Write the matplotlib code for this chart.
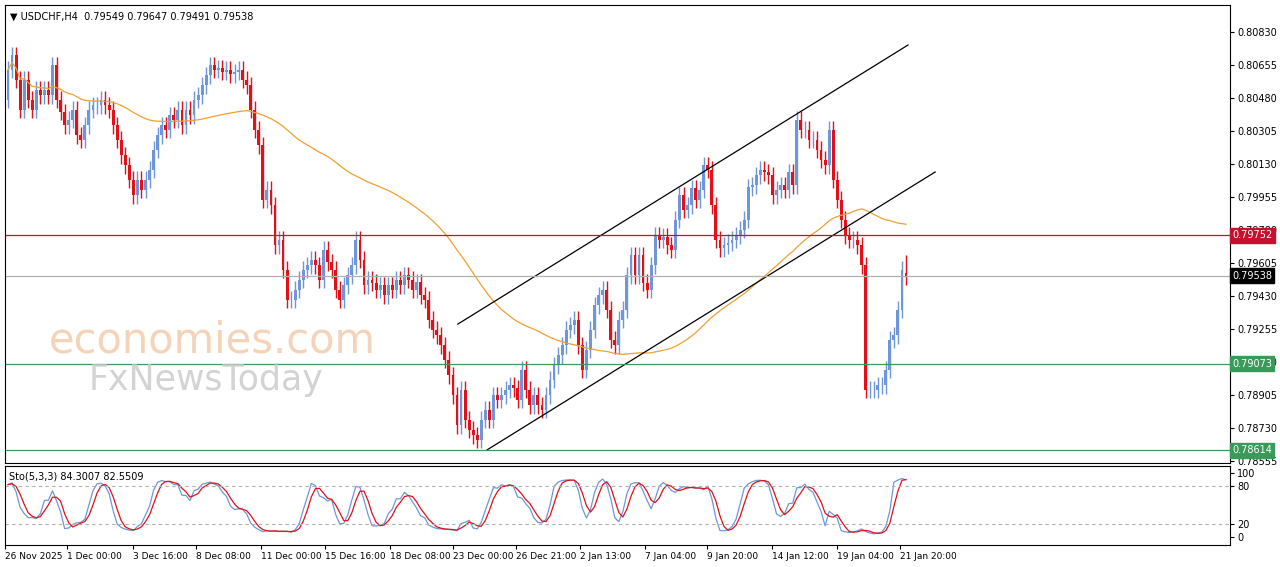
import matplotlib
matplotlib.use("Agg")
import matplotlib.pyplot as plt
import numpy as np

closes = [
.80629,.80708,.80576,.80417,.80576,.80470,.80417,.80523,.80496,.80523,
.80496,.80655,.80470,.80406,.80337,.80364,.80417,.80284,.80258,.80337,
.80417,.80443,.80443,.80470,.80443,.80417,.80337,.80258,.80178,.80125,
.80046,.79966,.80046,.79993,.80046,.80099,.80205,.80284,.80337,.80311,
.80390,.80364,.80417,.80337,.80417,.80390,.80470,.80496,.80549,.80602,
.80655,.80629,.80639,.80618,.80629,.80607,.80618,.80629,.80576,.80549,
.80417,.80311,.80231,.79940,.79993,.79913,.79701,.79728,.79569,.79410,
.79410,.79463,.79516,.79569,.79595,.79622,.79595,.79516,.79675,.79611,
.79569,.79463,.79410,.79489,.79542,.79595,.79728,.79622,.79489,.79516,
.79500,.79463,.79489,.79436,.79489,.79463,.79516,.79489,.79542,.79516,
.79463,.79505,.79436,.79410,.79304,.79251,.79224,.79171,.79092,.79012,
.78906,.78747,.78933,.78774,.78721,.78694,.78668,.78774,.78827,.78774,
.78906,.78880,.78906,.78933,.78959,.78943,.78880,.79039,.78933,.78853,
.78906,.78853,.78827,.78906,.78986,.79065,.79118,.79171,.79251,.79277,
.79304,.79171,.79039,.79145,.79251,.79383,.79436,.79463,.79357,.79198,
.79171,.79304,.79357,.79542,.79648,.79542,.79648,.79500,.79463,.79595,
.79754,.79728,.79744,.79701,.79675,.79834,.79966,.79887,.79913,.80003,
.79940,.79993,.80125,.80099,.79913,.79728,.79685,.79701,.79712,.79728,
.79754,.79781,.79834,.80008,.80019,.80072,.80099,.80088,.80072,.79966,
.79993,.80019,.79993,.80088,.80019,.80364,.80311,.80311,.80258,.80258,
.80205,.80152,.80125,.80311,.80046,.79940,.79834,.79754,.79728,.79728,
.79701,.79595,.78933,.78933,.78933,.78959,.78959,.79039,.79198,.79224,
.79357,.79569,.79538]
first_open = .80470
wick = 0.00045
date_labels = ["26 Nov 2025", "1 Dec 00:00", "3 Dec 16:00", "8 Dec 08:00", "11 Dec 00:00",
               "15 Dec 16:00", "18 Dec 08:00", "23 Dec 00:00", "26 Dec 21:00", "2 Jan 13:00",
               "7 Jan 04:00", "9 Jan 20:00", "14 Jan 12:00", "19 Jan 04:00", "21 Jan 20:00"]
date_px = [5, 67, 133, 196, 261, 325, 390, 453, 516, 580, 645, 707, 772, 837, 900]
price_ticks = [0.80830, 0.80655, 0.80480, 0.80305, 0.80130, 0.79955, 0.79780, 0.79605,
               0.79430, 0.79255, 0.79080, 0.78905, 0.78730, 0.78555]
levels = [(0.79752, "#c8102e", "#c8102e"), (0.79538, "#b0b0b0", "#000000"),
          (0.79073, "#3a9a5a", "#3a9a5a"), (0.78614, "#3a9a5a", "#3a9a5a")]
channel_upper = [(111.2, 0.79282), (222.5, 0.80761)]
channel_lower = [(118.4, 0.78615), (229.2, 0.80088)]

c = np.array(closes)
o = np.concatenate([[first_open], c[:-1]])
o[-1] = 0.79549
h = np.maximum(o, c) + wick
l = np.minimum(o, c) - wick
h[-1] = 0.79647; l[-1] = 0.79491
N = len(c)
idx = np.arange(N)

s = (906 - 8) / (N - 1)
xmin = -(8 - 5) / s
xmax = xmin + 1225 / s

fig = plt.figure(figsize=(12.8, 5.67), dpi=100)
fig.patch.set_facecolor("white")
ax = fig.add_axes([5/1280, (567-463)/567, 1225/1280, 458/567])
ax2 = fig.add_axes([5/1280, (567-545)/567, 1225/1280, 79/567])

bull, bear = "#6f96d8", "#e3101a"
cols = np.where(c >= o, bull, bear)
ax.vlines(idx, l, h, colors=cols, lw=1)
ax.bar(idx, np.abs(c - o) + 0.00002, bottom=np.minimum(o, c), width=0.7, color=cols, lw=0)

ma_n = 60
ma = np.array([c[max(0, i - ma_n + 1):i + 1].mean() for i in range(N)])
ax.plot(idx, ma, color="#f0a030", lw=0.9)

for (x0, y0), (x1, y1) in [channel_upper, channel_lower]:
    ax.plot([x0, x1], [y0, y1], color="black", lw=0.9)

ylo, yhi = 0.78546, 0.80973
for val, lc, bc in levels:
    ax.axhline(val, color=lc, lw=0.9)
    fy = (567 - 463) / 567 + (val - ylo) / (yhi - ylo) * 458 / 567
    fig.text(1232 / 1280, fy, f"{val:.5f}", fontsize=7, color="white",
             va="center", ha="left", zorder=10,
             bbox=dict(boxstyle="square,pad=0.25", fc=bc, ec=bc))

ax.set_xlim(xmin, xmax)
ax.set_ylim(ylo, yhi)
ax.yaxis.tick_right()
ax.set_yticks(price_ticks)
ax.set_yticklabels([f"{p:.5f}" for p in price_ticks], fontsize=7)
ax.tick_params(axis="y", length=3, pad=2)
ax.set_xticks([])
for sp in ax.spines.values():
    sp.set_linewidth(0.8)

ax.text(0.004, 0.985, "▼ USDCHF,H4  0.79549 0.79647 0.79491 0.79538", transform=ax.transAxes,
        fontsize=7, va="top", ha="left")
ax.text(10, 0.7913, "economies.com", fontsize=30, color="#f3c9a8", alpha=0.8)
ax.text(20, 0.78935, "FxNewsToday", fontsize=25, color="#c8c8c8", alpha=0.8)

# stochastic 5,3,3
kp = 5
hh = np.array([h[max(0, i - kp + 1):i + 1].max() for i in range(N)])
ll = np.array([l[max(0, i - kp + 1):i + 1].min() for i in range(N)])
num = c - ll; den = hh - ll
sn = np.array([num[max(0, i - 2):i + 1].sum() for i in range(N)])
sd = np.array([den[max(0, i - 2):i + 1].sum() for i in range(N)])
k = 100 * sn / sd
d = np.array([k[max(0, i - 2):i + 1].mean() for i in range(N)])
ax2.plot(idx, k, color="#6f96d8", lw=0.9)
ax2.plot(idx, d, color="#e3101a", lw=0.9)
for lv in (80, 20):
    ax2.axhline(lv, color="#b0b0b0", lw=0.8, ls=(0, (3, 3)))
ax2.set_xlim(xmin, xmax)
ax2.set_ylim(-12.5, 111)
ax2.yaxis.tick_right()
ax2.set_yticks([100, 80, 20, 0])
ax2.set_yticklabels(["100", "80", "20", "0"], fontsize=7)
ax2.tick_params(axis="y", length=3, pad=2)
xt = [(p - 5) / s + xmin for p in date_px]
ax2.set_xticks(xt)
ax2.set_xticklabels(date_labels, fontsize=6.5, ha="left")
ax2.tick_params(axis="x", length=3, pad=2)
ax2.text(0.003, 0.93, "Sto(5,3,3) 84.3007 82.5509", transform=ax2.transAxes, fontsize=7,
         va="top", ha="left")
for sp in ax2.spines.values():
    sp.set_linewidth(0.8)

fig.savefig("out.png", dpi=100)
